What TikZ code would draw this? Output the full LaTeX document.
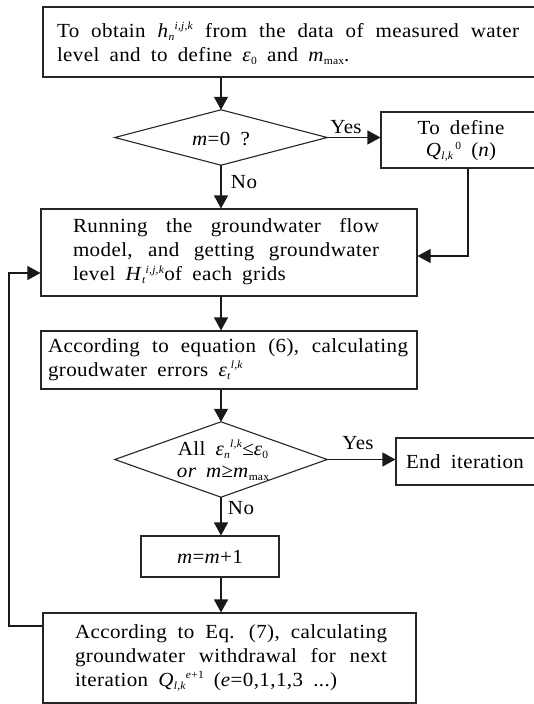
\documentclass[tikz,border=0pt]{standalone}
\usepackage{fontspec}
\setmainfont{Liberation Serif}[FakeStretch=1.05,LetterSpace=2,WordSpace=1.8]
\usetikzlibrary{arrows.meta}
\hyphenpenalty=10000
\exhyphenpenalty=10000
\emergencystretch=30pt
\newcommand{\lo}[1]{\raisebox{-0.3ex}{\fontsize{11}{11}\selectfont #1}}
\newcommand{\hi}[1]{\raisebox{0.85ex}{\fontsize{11}{11}\selectfont #1}}
\tikzset{
  box/.style={draw=black!85, line width=1.1pt, rectangle, inner sep=0pt},
  hid/.style={inner sep=0pt},
  txt/.style={font=\fontsize{20}{24}\selectfont, align=justify, inner sep=0pt},
  ctxt/.style={font=\fontsize{20}{24}\selectfont, align=center, inner sep=0pt},
  conn/.style={line width=1.1pt, draw=black!90},
  arr/.style={conn, -{Triangle[length=13pt,width=14pt]}},
  lbl/.style={font=\fontsize{20}{24}\selectfont, inner sep=0pt}
}
\begin{document}
\begin{tikzpicture}[x=1pt,y=-1pt]
\useasboundingbox (0,0) rectangle (534,704);
\fill[white] (0,0) rectangle (534,704);
% boxes
\node[box, minimum width=493, minimum height=70] (top) at (289.5,42) {};
\node[txt, text width=462] at (288,43) {To obtain \textit{h}\lo{\textit{n}}\hi{\textit{i,j,k}} from the data of measured water\linebreak level and to define \textit{ε}\lo{0} and \textit{m}\lo{max}.};
\node[hid, minimum width=212, minimum height=55] (d1) at (221,137.5) {};
\draw[box] (d1.west) -- (d1.north) -- (d1.east) -- (d1.south) -- cycle;
\node[ctxt] at (221,139) {\textit{m}=0 ?};
\node[box, minimum width=157, minimum height=56] (def) at (459.5,140) {};
\node[ctxt] at (461,141) {To define\\[-2pt]\textit{Q}\lo{\textit{l,k}}\hi{\,0} (\textit{n})};
\node[box, minimum width=376, minimum height=87] (b2) at (229,252.5) {};
\node[txt, text width=306] at (226,252) {Running the groundwater flow\linebreak model, and getting groundwater\linebreak level \textit{H}\lo{\textit{t}}\hi{\textit{i,j,k}}of each grids};
\node[box, minimum width=376, minimum height=58] (b3) at (229,360) {};
\node[txt, text width=360] at (228,360) {According to equation (6), calculating\linebreak groudwater errors \textit{ε}\lo{\textit{t}}\hi{\textit{l,k}}};
\node[hid, minimum width=212, minimum height=75] (d2) at (221,459.5) {};
\draw[box] (d2.west) -- (d2.north) -- (d2.east) -- (d2.south) -- cycle;
\node[ctxt] at (223,460) {All \textit{ε}\lo{\textit{n}}\hi{\textit{l,k}}≤\textit{ε}\lo{0}\\[-2pt]\textit{or m}≥\textit{m}\lo{max}};
\node[box, minimum width=140, minimum height=47] (end) at (466,461.5) {};
\node[ctxt] at (465,462) {End iteration};
\node[box, minimum width=138, minimum height=41] (mm) at (210,556.5) {};
\node[ctxt] at (210,557) {\textit{m}=\textit{m}+1};
\node[box, minimum width=373, minimum height=90] (b6) at (229.5,658) {};
\node[txt, text width=312] at (231,658) {According to Eq. (7), calculating\linebreak groundwater withdrawal for next\linebreak iteration \textit{Q}\lo{\textit{l,k}}\hi{\textit{e}+1} (\textit{e}=0,1,1,3 ...)};
% connectors
\draw[arr] (d1.north |- top.south) -- (d1.north);
\draw[arr] (d1.east) -- (def.west |- d1.east);
\coordinate (c1) at (468,256);
\draw[arr] (def.south -| c1) |- (b2.east |- c1);
\draw[arr] (d1.south) -- (d1.south |- b2.north);
\draw[arr] (d1.south |- b2.south) -- (d1.south |- b3.north);
\draw[arr] (d1.south |- b3.south) -- (d2.north);
\draw[arr] (d2.east) -- (end.west |- d2.east);
\draw[arr] (d2.south) -- (d2.south |- mm.north);
\draw[arr] (d2.south |- mm.south) -- (d2.south |- b6.north);
\coordinate (c2) at (9,626);
\coordinate (c3) at (9,273);
\draw[arr] (b6.west |- c2) -- (c2) -- (c3) -- (b2.west |- c3);
% labels
\node[lbl] at (346,127) {Yes};
\node[lbl] at (244,182) {No};
\node[lbl] at (358,443) {Yes};
\node[lbl] at (241,508) {No};
\end{tikzpicture}
\end{document}
